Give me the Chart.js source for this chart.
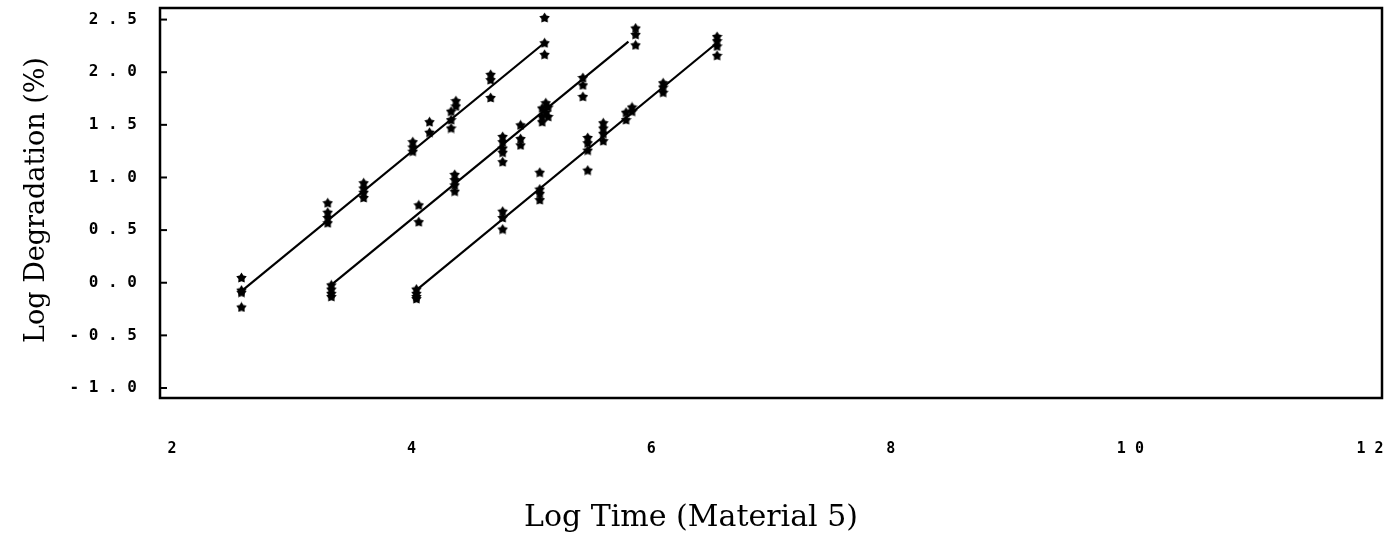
<!DOCTYPE html>
<html>
<head>
<meta charset="utf-8">
<title>Log Degradation vs Log Time (Material 5)</title>
<script src="https://cdn.jsdelivr.net/npm/chart.js@4.4.1/dist/chart.umd.min.js"></script>
<style>
  html, body { margin: 0; padding: 0; background: #fff; }
  canvas { display: block; }
</style>
</head>
<body>
<canvas id="chart" width="1400" height="545"></canvas>
<script>
const xTicks = [2, 4, 6, 8, 10, 12];
const yTicks = [-1.0, -0.5, 0.0, 0.5, 1.0, 1.5, 2.0, 2.5];
const xTitle = "Log Time (Material 5)";
const yTitle = "Log Degradation (%)";

// left group
const timeA = [2.58, 2.58, 2.58, 2.58, 3.30, 3.30, 3.30, 3.30, 3.60, 3.60, 3.60, 3.60,
  4.01, 4.01, 4.01, 4.15, 4.15, 4.33, 4.33, 4.33, 4.37, 4.37, 4.66, 4.66, 4.66, 5.11, 5.11, 5.11];
const degA = [0.05, -0.07, -0.09, -0.23, 0.76, 0.67, 0.62, 0.57, 0.95, 0.90, 0.86, 0.81,
  1.34, 1.29, 1.25, 1.53, 1.43, 1.63, 1.55, 1.47, 1.73, 1.68, 1.98, 1.93, 1.76, 2.52, 2.28, 2.17];
const fitTimeA = [2.58, 5.11];
const fitDegA = [-0.08, 2.28];

// middle group
const timeB = [3.33, 3.33, 3.33, 3.33, 4.06, 4.06, 4.36, 4.36, 4.36, 4.36,
  4.76, 4.76, 4.76, 4.76, 4.76, 4.91, 4.91, 4.91, 5.09, 5.09, 5.09, 5.12, 5.12, 5.14, 5.14,
  5.43, 5.43, 5.43, 5.87, 5.87, 5.87];
const degB = [-0.02, -0.06, -0.10, -0.13, 0.74, 0.58, 1.03, 0.98, 0.93, 0.87,
  1.39, 1.34, 1.28, 1.24, 1.15, 1.50, 1.37, 1.31, 1.66, 1.58, 1.53, 1.71, 1.62, 1.67, 1.58,
  1.95, 1.88, 1.77, 2.42, 2.36, 2.26];
const fitTimeB = [3.33, 5.81];
const fitDegB = [-0.02, 2.29];

// right group
const timeC = [4.04, 4.04, 4.04, 4.04, 4.76, 4.76, 4.76, 5.07, 5.07, 5.07, 5.07,
  5.47, 5.47, 5.47, 5.47, 5.60, 5.60, 5.60, 5.60, 5.79, 5.79, 5.84, 5.84,
  6.10, 6.10, 6.10, 6.55, 6.55, 6.55, 6.55];
const degC = [-0.06, -0.10, -0.13, -0.15, 0.68, 0.62, 0.51, 1.05, 0.89, 0.85, 0.79,
  1.38, 1.33, 1.26, 1.07, 1.52, 1.47, 1.42, 1.35, 1.62, 1.55, 1.67, 1.63,
  1.90, 1.86, 1.81, 2.34, 2.30, 2.25, 2.16];
const fitTimeC = [4.04, 6.55];
const fitDegC = [-0.07, 2.28];

function pairs(xs, ys) {
  return xs.map((x, i) => ({ x: x, y: ys[i] }));
}

function spaced(s) {
  return s.split('').join(' ');
}

function makeStar(size) {
  const c = document.createElement('canvas');
  c.width = size;
  c.height = size;
  const g = c.getContext('2d');
  const r = size / 2, ri = r * 0.58;
  g.beginPath();
  for (let i = 0; i < 10; i++) {
    const a = -Math.PI / 2 + i * Math.PI / 5;
    const rr = i % 2 ? ri : r;
    g.lineTo(r + rr * Math.cos(a), r + 0.5 + rr * Math.sin(a));
  }
  g.closePath();
  g.fillStyle = '#000';
  g.fill();
  return c;
}

const star = makeStar(11);

function pointSet(xs, ys) {
  return { data: pairs(xs, ys), pointStyle: star, pointRadius: 5.5, showLine: false, order: 1 };
}

function fitLine(xs, ys) {
  return { data: pairs(xs, ys), showLine: true, pointRadius: 0, borderColor: '#000', borderWidth: 2.2, order: 2 };
}

function noPad(s) {
  s.paddingTop = 0;
  s.paddingBottom = 0;
  s.paddingLeft = 0;
  s.paddingRight = 0;
}

const frame = {
  id: 'frame',
  afterDraw(chart) {
    const { ctx, chartArea: a, scales: { y } } = chart;
    ctx.save();
    ctx.strokeStyle = '#000';
    ctx.lineWidth = 2.5;
    ctx.strokeRect(a.left, a.top, a.right - a.left, a.bottom - a.top);
    ctx.lineWidth = 2;
    yTicks.forEach(v => {
      const py = y.getPixelForValue(v);
      ctx.beginPath();
      ctx.moveTo(a.left, py);
      ctx.lineTo(a.left + 7, py);
      ctx.stroke();
    });
    ctx.fillStyle = '#000';
    ctx.textAlign = 'center';
    ctx.textBaseline = 'middle';
    ctx.font = '30px "DejaVu Serif"';
    ctx.fillText(xTitle, 691, 518);
    ctx.translate(37, 200);
    ctx.rotate(-Math.PI / 2);
    ctx.font = '27px "DejaVu Serif"';
    ctx.fillText(yTitle, 0, 0);
    ctx.restore();
  }
};

new Chart(document.getElementById('chart'), {
  type: 'scatter',
  data: {
    datasets: [
      pointSet(timeA, degA),
      pointSet(timeB, degB),
      pointSet(timeC, degC),
      fitLine(fitTimeA, fitDegA),
      fitLine(fitTimeB, fitDegB),
      fitLine(fitTimeC, fitDegC)
    ]
  },
  options: {
    responsive: false,
    animation: false,
    devicePixelRatio: 1,
    layout: { padding: { top: 8, right: 18, left: 0, bottom: 0 } },
    plugins: { legend: { display: false }, tooltip: { enabled: false } },
    scales: {
      x: {
        type: 'linear',
        min: 1.9,
        max: 12.1,
        afterFit: s => { s.height = 147; noPad(s); },
        afterBuildTicks: s => { s.ticks = xTicks.map(v => ({ value: v })); },
        grid: { display: false, drawTicks: false },
        border: { display: false },
        ticks: {
          padding: 42,
          color: '#000',
          font: { family: '"DejaVu Sans Mono"', size: 15, weight: 'bold' },
          callback: v => spaced(String(v))
        }
      },
      y: {
        type: 'linear',
        min: -1.095,
        max: 2.61,
        afterFit: s => { s.width = 160; noPad(s); },
        afterBuildTicks: s => { s.ticks = yTicks.map(v => ({ value: v })); },
        grid: { display: false, drawTicks: false },
        border: { display: false },
        ticks: {
          padding: 23,
          color: '#000',
          font: { family: '"DejaVu Sans Mono"', size: 16, weight: 'bold' },
          callback: v => spaced(v.toFixed(1))
        }
      }
    }
  },
  plugins: [frame]
});
</script>
</body>
</html>
